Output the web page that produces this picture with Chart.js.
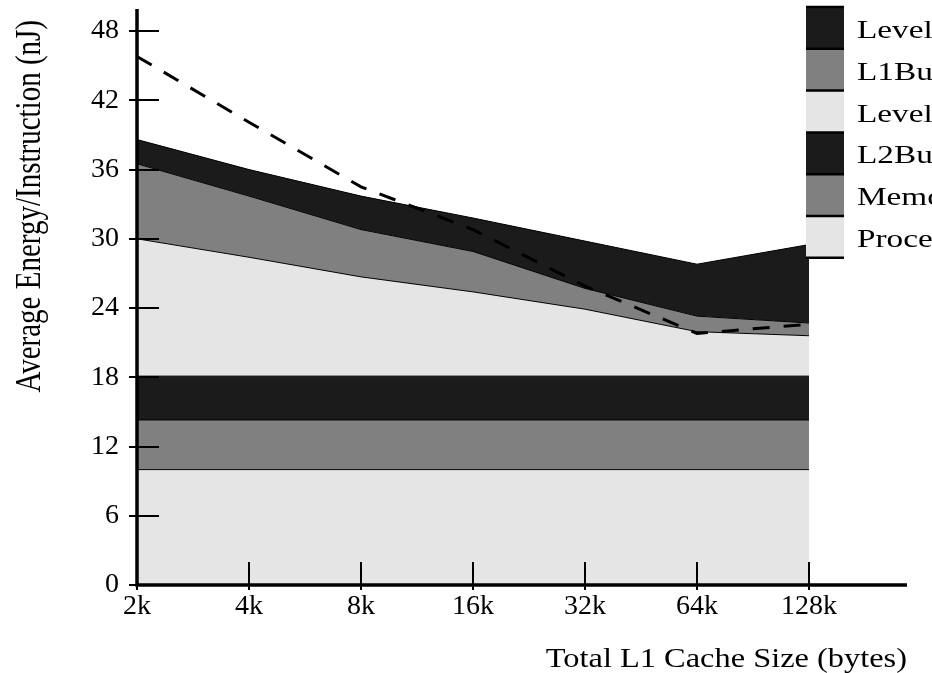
<!DOCTYPE html>
<html>
<head>
<meta charset="utf-8">
<script src="https://cdn.jsdelivr.net/npm/chart.js@4.4.1/dist/chart.umd.min.js"></script>
<style>
  html, body { margin: 0; padding: 0; background: #fff; }
</style>
</head>
<body>
<canvas id="chart" width="932" height="673"></canvas>
<script>
// Average energy per instruction, broken down by component, vs. total L1 cache size
var cacheSizes = ['2k', '4k', '8k', '16k', '32k', '64k', '128k'];
var yTicks = [0, 6, 12, 18, 24, 30, 36, 42, 48];

// stacked components, bottom to top (nJ)
var processor = [10, 10, 10, 10, 10, 10, 10];
var memory = [4.3, 4.3, 4.3, 4.3, 4.3, 4.3, 4.3];
var l2Bus = [3.8, 3.8, 3.8, 3.8, 3.8, 3.8, 3.8];
var level2 = [11.9, 10.3, 8.6, 7.3, 5.8, 3.85, 3.5];
var l1Bus = [6.5, 5.3, 4.1, 3.5, 1.8, 1.35, 1.1];
var level1 = [2.1, 2.3, 2.9, 2.9, 4.1, 4.5, 6.8];

// dashed comparison curve (nJ)
var dashedTotal = [45.8, 40.1, 34.5, 30.8, 25.9, 21.8, 22.6];

var DARK = '#1b1b1b', GRAY = '#808080', LIGHT = '#e5e5e5';
var SERIF = '"Liberation Serif", "Times New Roman", serif';
var STRETCH = 1.2; // text in this figure is set slightly wide

function points(values) {
    return values.map(function(v, i) { return { x: i, y: v }; });
}

function area(label, values, color, fill) {
    return {
        label: label,
        data: points(values),
        backgroundColor: color,
        borderColor: '#000',
        borderWidth: 1,
        pointRadius: 0,
        tension: 0,
        fill: fill,
        stack: 'energy'
    };
}

function noPadding(scale) {
    scale.paddingTop = 0;
    scale.paddingBottom = 0;
    scale.paddingLeft = 0;
    scale.paddingRight = 0;
}

// axes drawn as thick lines with ticks crossing them, plus titles and legend
var framePlugin = {
    id: 'frame',
    afterDatasetsDraw: function(chart) {
        var ctx = chart.ctx, a = chart.chartArea;
        var xs = chart.scales.x, ys = chart.scales.y;
        ctx.save();
        ctx.strokeStyle = '#000';
        ctx.lineWidth = 2;
        yTicks.forEach(function(t) {
            var py = Math.round(ys.getPixelForValue(t));
            ctx.beginPath();
            ctx.moveTo(a.left - 8, py);
            ctx.lineTo(a.left + 22, py);
            ctx.stroke();
        });
        cacheSizes.forEach(function(s, i) {
            var px = Math.round(xs.getPixelForValue(i));
            ctx.beginPath();
            ctx.moveTo(px, a.bottom - 23);
            ctx.lineTo(px, a.bottom + 5);
            ctx.stroke();
        });
        ctx.lineWidth = 3.5;
        ctx.beginPath();
        ctx.moveTo(a.left, a.top + 1);
        ctx.lineTo(a.left, a.bottom);
        ctx.lineTo(a.right, a.bottom);
        ctx.stroke();
        ctx.restore();
    },
    afterDraw: function(chart) {
        var ctx = chart.ctx;

        // x axis title, right-aligned to the end of the axis
        ctx.save();
        ctx.fillStyle = '#000';
        ctx.font = '27px ' + SERIF;
        ctx.textAlign = 'right';
        ctx.textBaseline = 'alphabetic';
        ctx.translate(907, 667);
        ctx.scale(STRETCH, 1);
        ctx.fillText('Total L1 Cache Size (bytes)', 0, 0);
        ctx.restore();

        // y axis title
        ctx.save();
        ctx.fillStyle = '#000';
        ctx.font = '29px ' + SERIF;
        ctx.textAlign = 'right';
        ctx.textBaseline = 'alphabetic';
        ctx.translate(40, 20);
        ctx.rotate(-Math.PI / 2);
        ctx.scale(1, STRETCH);
        ctx.fillText('Average Energy/Instruction (nJ)', 0, 0);
        ctx.restore();

        // legend, top entry is the top of the stack
        ctx.save();
        var entries = chart.data.datasets.filter(function(d) { return d.stack === 'energy'; }).slice().reverse();
        var x0 = 806, w = 38, top = 7, h = 41.8;
        entries.forEach(function(d, i) {
            var y = top + i * h;
            ctx.fillStyle = d.backgroundColor;
            ctx.fillRect(x0, y, w, h);
            ctx.save();
            ctx.fillStyle = '#000';
            ctx.font = '26px ' + SERIF;
            ctx.textAlign = 'left';
            ctx.textBaseline = 'alphabetic';
            ctx.translate(x0 + 51, y + 31);
            ctx.scale(1.28, 1);
            ctx.fillText(d.label, 0, 0);
            ctx.restore();
        });
        ctx.strokeStyle = '#000';
        ctx.lineWidth = 2.5;
        for (var i = 0; i <= entries.length; i++) {
            var ly = top + i * h;
            ctx.beginPath();
            ctx.moveTo(x0, ly);
            ctx.lineTo(x0 + w, ly);
            ctx.stroke();
        }
        ctx.restore();
    }
};

new Chart(document.getElementById('chart'), {
    type: 'line',
    data: {
        datasets: [
            area('Processor', processor, LIGHT, 'origin'),
            area('Memory', memory, GRAY, '-1'),
            area('L2Bus', l2Bus, DARK, '-1'),
            area('Level2', level2, LIGHT, '-1'),
            area('L1Bus', l1Bus, GRAY, '-1'),
            area('Level1', level1, DARK, '-1'),
            {
                label: 'Total',
                data: points(dashedTotal),
                borderColor: '#000',
                borderWidth: 3,
                borderDash: [17, 14],
                pointRadius: 0,
                tension: 0,
                fill: false,
                stack: 'total',
                order: -1
            }
        ]
    },
    options: {
        responsive: false,
        animation: false,
        devicePixelRatio: 1,
        layout: { padding: { left: 0, top: 8, right: 25, bottom: 0 } },
        plugins: {
            legend: { display: false },
            tooltip: { enabled: false }
        },
        scales: {
            x: {
                type: 'linear',
                min: 0,
                max: 6.875,
                grid: { display: false, drawTicks: false },
                border: { display: false },
                afterBuildTicks: function(scale) {
                    scale.ticks = cacheSizes.map(function(s, i) { return { value: i }; });
                },
                afterFit: function(scale) {
                    scale.height = 88;
                    noPadding(scale);
                },
                ticks: {
                    color: '#000',
                    font: { family: SERIF, size: 28 },
                    padding: 5,
                    maxRotation: 0,
                    autoSkip: false,
                    callback: function(v) { return cacheSizes[v]; }
                }
            },
            y: {
                stacked: true,
                min: 0,
                max: 50,
                grid: { display: false, drawTicks: false },
                border: { display: false },
                afterBuildTicks: function(scale) {
                    scale.ticks = yTicks.map(function(t) { return { value: t }; });
                },
                afterFit: function(scale) {
                    scale.width = 137;
                    noPadding(scale);
                },
                ticks: {
                    color: '#000',
                    font: { family: SERIF, size: 28 },
                    padding: 18
                }
            }
        }
    },
    plugins: [framePlugin]
});
</script>
</body>
</html>
